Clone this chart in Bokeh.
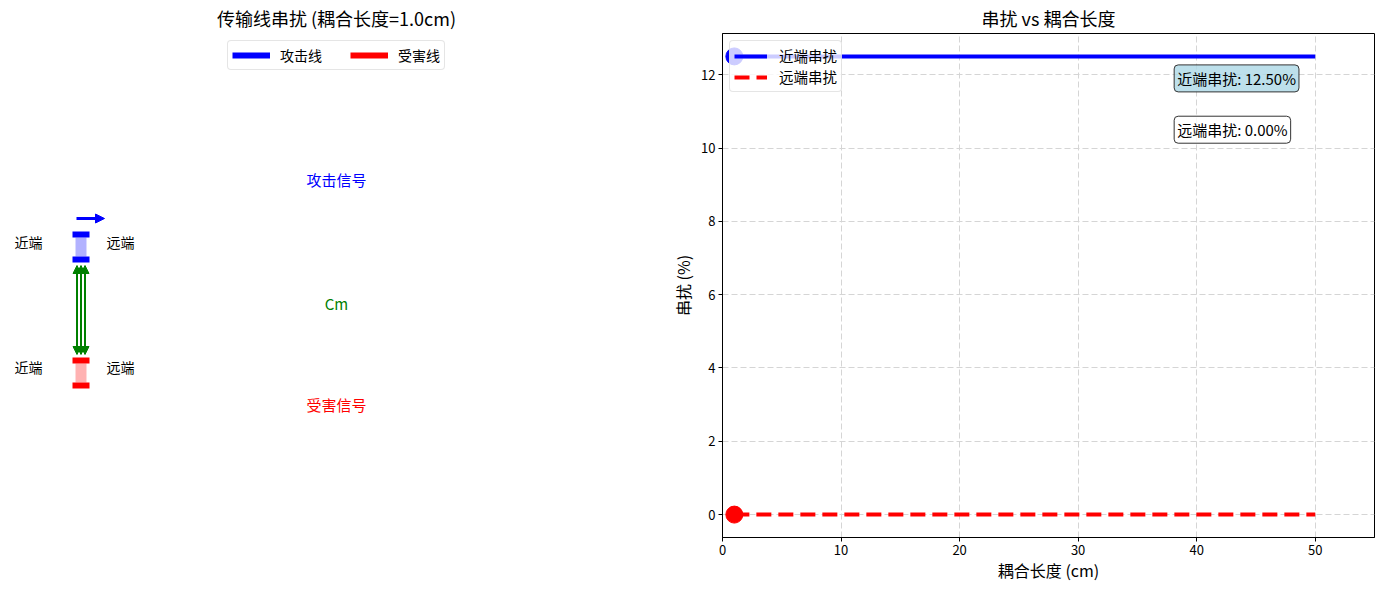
from bokeh.plotting import figure
from bokeh.layouts import row
from bokeh.models import Range1d, Label, Arrow, NormalHead, Legend, LegendItem, FixedTicker
from bokeh.embed import file_html
from bokeh.resources import INLINE

FONT = "Noto Sans CJK SC"

# ---------------- data ----------------
coupling_cm = [1, 5, 10, 15, 20, 25, 30, 35, 40, 45, 50]
next_pct = [12.5, 12.5, 12.5, 12.5, 12.5, 12.5, 12.5, 12.5, 12.5, 12.5, 12.5]
fext_pct = [0.0, 0.0, 0.0, 0.0, 0.0, 0.0, 0.0, 0.0, 0.0, 0.0, 0.0]
current_len = [1.0]
current_next = [12.5]
current_fext = [0.0]
x_ticks = [0, 10, 20, 30, 40, 50]
y_ticks = [0, 2, 4, 6, 8, 10, 12]
left_title = "传输线串扰 (耦合长度=1.0cm)"
right_title = "串扰 vs 耦合长度"
series_names = ["近端串扰", "远端串扰"]
line_names = ["攻击线", "受害线"]
end_names = ["近端", "远端"]
signal_names = ["攻击信号", "受害信号"]


def safe_set(obj, **kw):
    for k, v in kw.items():
        try:
            setattr(obj, k, v)
        except Exception:
            pass


# ---------------- left: diagram ----------------
p1 = figure(frame_width=652, frame_height=504, x_range=Range1d(0, 652), y_range=Range1d(0, 504),
            output_backend="svg", toolbar_location=None, title=left_title,
            x_axis_location=None, y_axis_location=None,
            min_border_left=10, min_border_right=4, min_border_top=20, min_border_bottom=44)
p1.grid.visible = False
p1.outline_line_color = None
p1.title.align = "center"
p1.title.text_font = FONT
p1.title.text_font_size = "18px"
p1.title.text_font_style = "normal"
p1.title.text_color = "black"
p1.title.standoff = 5

# aggressor line (blue) and victim line (red)
p1.rect(x=[70.5], y=[290.5], width=11, height=19, fill_color="blue", fill_alpha=0.3, line_color=None)
p1.rect(x=[70.5, 70.5], y=[303, 278], width=17, height=6, fill_color="blue", line_color=None)
p1.rect(x=[70.5], y=[164.5], width=11, height=19, fill_color="red", fill_alpha=0.3, line_color=None)
p1.rect(x=[70.5, 70.5], y=[177, 152], width=17, height=6, fill_color="red", line_color=None)

# signal direction arrow
p1.add_layout(Arrow(x_start=66, y_start=319, x_end=94, y_end=319, line_color="blue", line_width=3,
                    end=NormalHead(size=9, fill_color="blue", line_color="blue")))
# coupling arrows
for xx in [66.5, 70.5, 74.5]:
    p1.add_layout(Arrow(x_start=xx, y_start=272, x_end=xx, y_end=183, line_color="green", line_width=2,
                        start=NormalHead(size=8, fill_color="green", line_color="green"),
                        end=NormalHead(size=8, fill_color="green", line_color="green")))

for yy in [296, 171]:
    p1.add_layout(Label(x=18, y=yy, text=end_names[0], text_align="center", text_baseline="middle",
                        text_font=FONT, text_font_size="14px", text_color="black"))
    p1.add_layout(Label(x=110, y=yy, text=end_names[1], text_align="center", text_baseline="middle",
                        text_font=FONT, text_font_size="14px", text_color="black"))
p1.add_layout(Label(x=326, y=358, text=signal_names[0], text_align="center", text_baseline="middle",
                    text_font=FONT, text_font_size="15px", text_color="blue"))
p1.add_layout(Label(x=326, y=234, text="Cm", text_align="center", text_baseline="middle",
                    text_font=FONT, text_font_size="15px", text_color="green"))
p1.add_layout(Label(x=326, y=133, text=signal_names[1], text_align="center", text_baseline="middle",
                    text_font=FONT, text_font_size="15px", text_color="red"))

# legend-only renderers (placed outside the visible range)
la = p1.line([-1000, -999], [-1000, -1000], line_color="blue", line_width=6)
lb = p1.line([-1000, -999], [-1000, -1000], line_color="red", line_width=6)
leg1 = Legend(items=[LegendItem(label=line_names[0], renderers=[la]),
                     LegendItem(label=line_names[1], renderers=[lb])],
              location="top_center", orientation="horizontal")
leg1.label_text_font = FONT
leg1.label_text_font_size = "14px"
leg1.label_text_color = "black"
leg1.glyph_width = 38
leg1.glyph_height = 16
leg1.label_height = 20
leg1.spacing = 28
leg1.padding = 4
leg1.margin = 7
leg1.label_standoff = 10
leg1.border_line_color = "#cccccc"
leg1.background_fill_alpha = 0.8
safe_set(leg1, border_radius=4)
p1.add_layout(leg1)

# ---------------- right: crosstalk vs length ----------------
p2 = figure(frame_width=652, frame_height=504, x_range=Range1d(0, 55), y_range=Range1d(-0.625, 13.125),
            output_backend="svg", toolbar_location=None, title=right_title,
            min_border_left=56, min_border_right=8, min_border_top=20, min_border_bottom=40)
p2.title.align = "center"
p2.title.text_font = FONT
p2.title.text_font_size = "18px"
p2.title.text_font_style = "normal"
p2.title.text_color = "black"
p2.title.standoff = 5
p2.outline_line_color = "black"
p2.outline_line_width = 1
p2.xaxis.ticker = FixedTicker(ticks=x_ticks)
p2.yaxis.ticker = FixedTicker(ticks=y_ticks)
for ax in (p2.xaxis, p2.yaxis):
    ax.major_label_text_font = FONT
    ax.major_label_text_font_size = "13px"
    ax.major_label_text_color = "black"
    ax.axis_label_text_font = FONT
    ax.axis_label_text_font_size = "16px"
    ax.axis_label_text_font_style = "normal"
    ax.axis_label_text_color = "black"
    ax.minor_tick_line_color = None
    ax.major_tick_out = 4
    ax.major_tick_in = 0
    ax.major_tick_line_color = "black"
    ax.major_label_standoff = 3
    ax.axis_line_color = "black"
p2.xaxis.axis_label_standoff = 0
p2.yaxis.axis_label_standoff = 3
p2.xaxis.axis_label = "耦合长度 (cm)"
p2.yaxis.axis_label = "串扰 (%)"
p2.grid.grid_line_color = "#d5d5d5"
p2.grid.grid_line_dash = "6 3"

r_next = p2.line(coupling_cm, next_pct, line_color="blue", line_width=4)
r_fext = p2.line(coupling_cm, fext_pct, line_color="red", line_width=4, line_dash="15 7")
p2.scatter(current_len, current_next, size=17, color="blue")
p2.scatter(current_len, current_fext, size=17, color="red")

leg2 = Legend(items=[LegendItem(label=series_names[0], renderers=[r_next]),
                     LegendItem(label=series_names[1], renderers=[r_fext])],
              location="top_left")
leg2.label_text_font = FONT
leg2.label_text_font_size = "14.5px"
leg2.label_text_color = "black"
leg2.glyph_width = 33
leg2.glyph_height = 16
leg2.label_height = 20
leg2.spacing = 0
leg2.padding = 4
leg2.margin = 7
leg2.label_standoff = 12
leg2.border_line_color = "#cccccc"
leg2.background_fill_alpha = 0.8
safe_set(leg2, border_radius=4)
p2.add_layout(leg2)

lab1 = Label(x=38.1, y=11.9, text=f"{series_names[0]}: {current_next[0]:.2f}%", text_align="left",
             text_baseline="middle", text_font=FONT, text_font_size="15px", text_color="black",
             background_fill_color="lightblue", background_fill_alpha=0.8,
             border_line_color="#333333", border_line_width=1)
safe_set(lab1, padding=3, border_radius=4)
lab2 = Label(x=38.1, y=10.5, text=f"{series_names[1]}: {current_fext[0]:.2f}%", text_align="left",
             text_baseline="middle", text_font=FONT, text_font_size="15px", text_color="black",
             background_fill_color="white", background_fill_alpha=0.8,
             border_line_color="#333333", border_line_width=1)
safe_set(lab2, padding=3, border_radius=4)
p2.add_layout(lab1)
p2.add_layout(lab2)

layout = row(p1, p2)
open("out.html", "w").write(file_html(layout, INLINE))
